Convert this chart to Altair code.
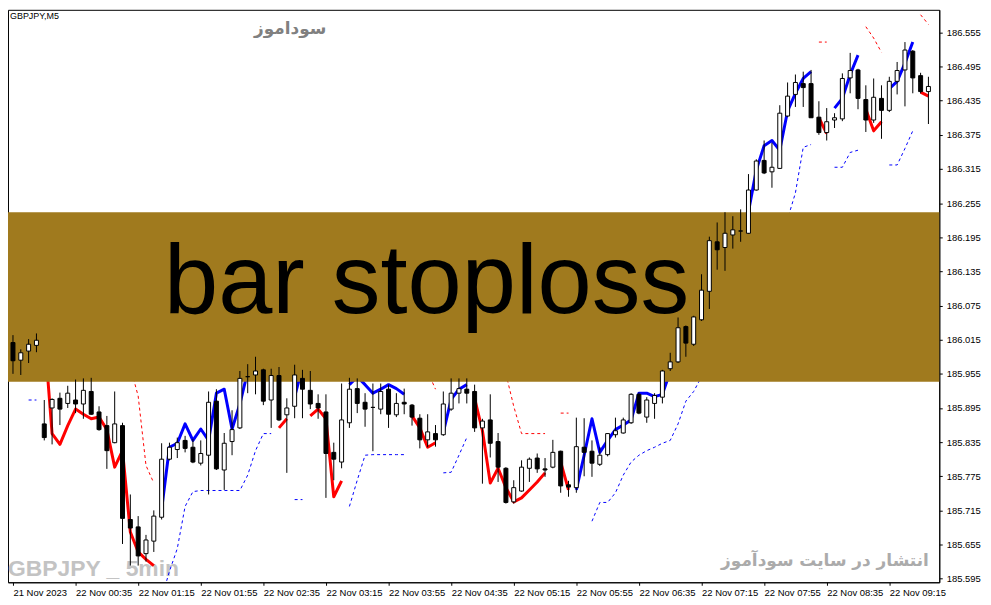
import altair as alt
import pandas as pd

# ---------------- data (GBPJPY, M5) ----------------
opens = [186.010, 185.979, 185.995, 186.005, 185.867, 185.895, 185.912, 185.903, 185.909, 185.902,
         185.924, 185.888, 185.864, 185.834, 185.864, 185.699, 185.686, 185.639, 185.661, 185.703,
         185.805, 185.822, 185.838, 185.826, 185.798, 185.812, 185.907, 185.786, 185.836, 185.860,
         185.950, 185.953, 185.962, 185.909, 185.952, 185.883, 185.898, 185.947, 185.926, 185.903,
         185.888, 185.817, 185.800, 185.869, 185.929, 185.905, 185.896, 185.893, 185.928, 185.883,
         185.905, 185.900, 185.877, 185.839, 185.850, 185.848, 185.893, 185.921, 185.928, 185.924,
         185.860, 185.874, 185.836, 185.789, 185.730, 185.749, 185.789, 185.807, 185.788, 185.791,
         185.819, 185.760, 185.755, 185.826, 185.819, 185.796, 185.813, 185.848, 185.851, 185.869,
         185.919, 185.879, 185.903, 185.914, 185.964, 185.976, 186.038, 186.007, 186.050, 186.100,
         186.187, 186.177, 186.199, 186.206, 186.202, 186.278, 186.330, 186.310, 186.316, 186.408,
         186.446, 186.465, 186.465, 186.406, 186.379, 186.401, 186.403, 186.475, 186.489, 186.437,
         186.401, 186.439, 186.418, 186.469, 186.489, 186.522, 186.479, 186.451]
highs = [186.023, 185.998, 186.016, 186.026, 185.909, 185.912, 185.922, 185.934, 185.945, 185.947,
         185.948, 185.898, 185.881, 185.924, 185.869, 185.743, 185.705, 185.672, 185.715, 185.833,
         185.834, 185.843, 185.846, 185.841, 185.838, 185.924, 185.928, 185.851, 185.891, 185.960,
         185.972, 185.985, 185.964, 185.964, 185.967, 185.912, 185.971, 185.962, 185.960, 185.919,
         185.919, 185.834, 185.938, 185.948, 185.947, 185.921, 185.938, 185.938, 185.936, 185.921,
         185.929, 185.902, 185.884, 185.884, 185.865, 185.924, 185.947, 185.947, 185.947, 185.936,
         185.876, 185.919, 185.851, 185.791, 185.768, 185.803, 185.808, 185.815, 185.807, 185.839,
         185.820, 185.767, 185.878, 185.877, 185.838, 185.826, 185.851, 185.878, 185.878, 185.921,
         185.922, 185.914, 185.921, 185.962, 185.992, 186.054, 186.040, 186.057, 186.130, 186.196,
         186.221, 186.239, 186.232, 186.244, 186.306, 186.332, 186.365, 186.361, 186.427, 186.467,
         186.481, 186.486, 186.489, 186.434, 186.422, 186.413, 186.483, 186.519, 186.491, 186.462,
         186.474, 186.462, 186.477, 186.503, 186.538, 186.524, 186.484, 186.477]
lows = [185.955, 185.953, 185.974, 185.993, 185.838, 185.831, 185.865, 185.895, 185.886, 185.876,
        185.883, 185.855, 185.788, 185.833, 185.656, 185.618, 185.618, 185.625, 185.642, 185.699,
        185.803, 185.807, 185.817, 185.798, 185.794, 185.743, 185.786, 185.751, 185.812, 185.858,
        185.921, 185.919, 185.900, 185.860, 185.872, 185.781, 185.877, 185.877, 185.893, 185.876,
        185.737, 185.768, 185.789, 185.860, 185.886, 185.862, 185.819, 185.884, 185.860, 185.879,
        185.884, 185.864, 185.824, 185.826, 185.827, 185.846, 185.890, 185.903, 185.903, 185.853,
        185.762, 185.808, 185.765, 185.727, 185.727, 185.748, 185.765, 185.781, 185.774, 185.789,
        185.746, 185.739, 185.746, 185.775, 185.774, 185.793, 185.810, 185.843, 185.850, 185.867,
        185.884, 185.869, 185.876, 185.903, 185.960, 185.974, 185.985, 186.004, 186.048, 186.069,
        186.138, 186.136, 186.175, 186.187, 186.201, 186.277, 186.306, 186.282, 186.315, 186.406,
        186.424, 186.424, 186.405, 186.375, 186.365, 186.387, 186.399, 186.448, 186.420, 186.380,
        186.396, 186.368, 186.415, 186.446, 186.425, 186.448, 186.448, 186.394]
closes = [185.978, 185.992, 186.007, 186.014, 185.843, 185.910, 185.893, 185.921, 185.902, 185.926,
          185.884, 185.857, 185.820, 185.867, 185.701, 185.684, 185.635, 185.663, 185.705, 185.805,
          185.826, 185.834, 185.824, 185.800, 185.815, 185.905, 185.788, 185.833, 185.857, 185.947,
          185.950, 185.960, 185.907, 185.952, 185.874, 185.895, 185.953, 185.928, 185.902, 185.895,
          185.815, 185.805, 185.874, 185.928, 185.903, 185.893, 185.896, 185.924, 185.884, 185.903,
          185.902, 185.879, 185.839, 185.853, 185.839, 185.902, 185.921, 185.929, 185.921, 185.860,
          185.872, 185.833, 185.791, 185.729, 185.755, 185.791, 185.805, 185.788, 185.786, 185.817,
          185.758, 185.756, 185.827, 185.817, 185.798, 185.812, 185.850, 185.855, 185.874, 185.919,
          185.886, 185.909, 185.917, 185.960, 185.976, 186.036, 186.009, 186.055, 186.102, 186.189,
          186.173, 186.202, 186.208, 186.206, 186.278, 186.329, 186.308, 186.318, 186.413, 186.443,
          186.467, 186.458, 186.405, 186.379, 186.398, 186.405, 186.474, 186.488, 186.439, 186.401,
          186.441, 186.418, 186.469, 186.488, 186.524, 186.475, 186.451, 186.460]

# colour-changing trend line: value per bar (None = not drawn), direction per bar
trend_value = [None, None, None, None,
               186.028, 185.850, 185.831, 185.864, 185.893, 185.884, 185.876, 185.879, 185.857, 185.791,
               185.820, 185.677, 185.642, 185.629, 185.618,
               185.717, 185.826, 185.833, 185.867, 185.838, 185.858, 185.838, 185.921, 185.928, 185.858,
               185.902, 185.959,
               None, None, None,
               185.860, 185.876,
               185.915, 185.967,
               185.881, 185.893, 185.876, 185.739, 185.767,
               185.936, 185.950, 185.936, 185.921, 185.928, 185.936, 185.929, 185.919,
               185.881, 185.860, 185.826, 185.834,
               185.852, 185.910, 185.928, 185.936,
               185.912, 185.855, 185.763, 185.789, 185.755, 185.730, 185.737, 185.751, 185.765, 185.781,
               None,
               185.800, 185.751,
               185.751, 185.812, 185.876, 185.817, 185.838, 185.857, 185.865, 185.874, 185.921, 185.921,
               185.915, 185.919, 185.959, 186.002, 186.019, 186.045, 186.088, 186.149, 186.175, 186.192,
               186.204, 186.221, 186.240, 186.313, 186.356, 186.365, 186.348, 186.417, 186.448, 186.474,
               186.486,
               186.405, 186.377,
               186.422, 186.439, 186.481, 186.515,
               186.420, 186.382, 186.398,
               186.456, 186.469, 186.501, 186.538,
               186.450, 186.443]
trend_dir = ("----"
             "ddddddddddddddd"
             "uuuuuuuuuuuu"
             "---"
             "dd" "uu" "ddddd" "uuuuuuuu" "dddd" "uuuu"
             "dddddddddd" "-" "dd"
             "uuuuuuuuuuuuuuuuuuuuuuuuuuuuuuu"
             "dd" "uuuu" "ddd" "uuuu" "dd")

# dotted trailing stops: support (blue, below price) and resistance (red, above price)
support_bars = [2, 3,
                19, 20, 21, 22, 23, 24, 25, 26, 27, 28, 29, 30, 31, 32, 33,
                36, 37,
                43, 44, 45, 46, 47, 48, 49, 50,
                55, 56, 57, 58,
                74, 75, 76, 77, 78, 79, 80, 81, 82, 83, 84, 85, 86, 87, 88,
                98, 99, 100, 101, 102,
                105, 106, 107, 108,
                112, 113, 114, 115]
support_vals = [185.909, 185.909,
                185.561, 185.608, 185.648, 185.722, 185.748, 185.750, 185.750, 185.750, 185.750, 185.750,
                185.750, 185.777, 185.820, 185.850, 185.850,
                185.734, 185.734,
                185.722, 185.768, 185.812, 185.813, 185.813, 185.813, 185.813, 185.813,
                185.781, 185.782, 185.812, 185.843,
                185.696, 185.729, 185.729, 185.746, 185.777, 185.800, 185.812, 185.820, 185.826, 185.833,
                185.838, 185.867, 185.907, 185.924, 185.950,
                186.183, 186.227, 186.273, 186.353, 186.358,
                186.318, 186.318, 186.344, 186.348,
                186.322, 186.322, 186.351, 186.382]
resist_bars = [15, 16, 17, 18, 53, 54, 63, 64, 65, 66, 67, 68, 70, 71,
               103, 104, 109, 110, 111, 116, 117]
resist_vals = [185.967, 185.916, 185.794, 185.763, 185.959, 185.928,
               185.955, 185.898, 185.850, 185.850, 185.850, 185.850, 185.886, 185.886,
               186.538, 186.538, 186.565, 186.545, 186.520, 186.586, 186.569]

band_top, band_bottom = 186.239, 185.941

tick_bars = [0, 8, 16, 24, 32, 40, 48, 56, 64, 72, 80, 88, 96, 104, 112]
tick_labels = ["21 Nov 2023", "22 Nov 00:35", "22 Nov 01:15", "22 Nov 01:55", "22 Nov 02:35",
               "22 Nov 03:15", "22 Nov 03:55", "22 Nov 04:35", "22 Nov 05:15", "22 Nov 05:55",
               "22 Nov 06:35", "22 Nov 07:15", "22 Nov 07:55", "22 Nov 08:35", "22 Nov 09:15"]
y_ticks = [185.595, 185.655, 185.715, 185.775, 185.835, 185.895, 185.955, 186.015, 186.075,
           186.135, 186.195, 186.255, 186.315, 186.375, 186.435, 186.495, 186.555]

# ---------------- tables ----------------
RED, BLUE = "#FF0000", "#0000FF"
candles = pd.DataFrame({"i": list(range(len(opens))), "o": opens, "h": highs, "l": lows, "c": closes})
candles["fill"] = ["#FFFFFF" if c > o else "#000000" for o, c in zip(opens, closes)]

trend_rows, run, prev = [], 0, None
for i, (v, d) in enumerate(zip(trend_value, trend_dir)):
    if v is None or d == "-":
        prev = None
        continue
    if d != prev:
        run += 1
    trend_rows.append({"i": i, "v": v, "run": run, "col": RED if d == "d" else BLUE})
    prev = d
trend = pd.DataFrame(trend_rows)


def dotted(bars, vals, colour):
    rows, r, last = [], 0, None
    for b, v in zip(bars, vals):
        if last is None or b != last + 1:
            r += 1
        rows.append({"i": b, "v": v, "run": r, "col": colour})
        last = b
    return pd.DataFrame(rows)


support = dotted(support_bars, support_vals, BLUE)
resist = dotted(resist_bars, resist_vals, RED)

# ---------------- scales / axes ----------------
W, H = 937, 576
FONT = "Liberation Sans"
xs = alt.Scale(domain=[0, 117.75], nice=False, zero=False)
ys = alt.Scale(domain=[185.5887, 186.5947], nice=False, zero=False)
lab_arr = "[" + ",".join("'" + t + "'" for t in tick_labels) + "]"
bar_arr = "[" + ",".join(str(b) for b in tick_bars) + "]"
xaxis = alt.Axis(values=tick_bars, labelExpr=lab_arr + "[indexof(" + bar_arr + ", datum.value)]",
                 orient="bottom", title=None, grid=False, tickSize=3, tickColor="black",
                 domainColor="black", labelAlign="left", labelBaseline="top", labelPadding=2,
                 labelFont=FONT, labelFontSize=9.5, labelColor="black", labelOverlap=False,
                 labelFlush=False, labelBound=False)
yaxis = alt.Axis(values=y_ticks, format=".3f", orient="right", title=None, grid=False,
                 tickSize=3, tickColor="black", domainColor="black", labelPadding=4,
                 labelFont=FONT, labelFontSize=9.5, labelColor="black", labelOverlap=False,
                 labelFlush=False, labelBound=False)
X = alt.X("i:Q", scale=xs, axis=xaxis)


def Y(field):
    return alt.Y(field + ":Q", scale=ys, axis=yaxis)


def label(txt, x, y, size, colour, font=FONT, bold=False, align="left", baseline="alphabetic"):
    return alt.Chart(pd.DataFrame({"t": [txt]})).mark_text(
        font=font, fontSize=size, fontWeight="bold" if bold else "normal", color=colour,
        align=align, baseline=baseline
    ).encode(text="t:N", x=alt.value(x), y=alt.value(y))


wm_left = label("GBPJPY _ 5min", 0, 570, 23, "#C3C3C3", bold=True)
wm_right = label("انتشار در سایت سودآموز", 822, 555, 17, "#ABABAB", font="DejaVu Sans",
                 bold=True, align="center", baseline="middle")
wm_top = label("سوداموز", 284, 19, 17, "#808080", font="DejaVu Sans", bold=True,
               align="center", baseline="middle")
symbol = label("GBPJPY,M5", 2, 9, 9, "black")

trend_layer = alt.Chart(trend).mark_line(strokeWidth=3, clip=True, strokeJoin="round").encode(
    x=X, y=Y("v"), detail="run:N", color=alt.Color("col:N", scale=None))
support_layer = alt.Chart(support).mark_line(strokeWidth=1, strokeDash=[3, 3], clip=True).encode(
    x=X, y=Y("v"), detail="run:N", color=alt.Color("col:N", scale=None))
resist_layer = alt.Chart(resist).mark_line(strokeWidth=1, strokeDash=[3, 3], clip=True).encode(
    x=X, y=Y("v"), detail="run:N", color=alt.Color("col:N", scale=None))

band = alt.Chart(pd.DataFrame({"top": [band_top], "bottom": [band_bottom]})).mark_rect(
    color="#A07A1E").encode(y=alt.Y("top:Q", scale=ys, axis=yaxis), y2="bottom:Q",
                            x=alt.value(0), x2=alt.value(W))
band_text = label("bar stoploss", 157, 305, 98, "black")

wicks = alt.Chart(candles).mark_rule(color="black", strokeWidth=1).encode(
    x=X, y=Y("l"), y2="h:Q")
bodies = alt.Chart(candles).mark_bar(size=4, stroke="black", strokeWidth=1).encode(
    x=X, y=Y("o"), y2="c:Q", fill=alt.Color("fill:N", scale=None))

chart = alt.layer(
    wm_left, wm_right, wm_top, trend_layer, support_layer, resist_layer,
    band, band_text, wicks, bodies, symbol
).properties(
    width=W, height=H,
    padding={"left": 0, "top": 0, "right": 44, "bottom": 13},
    autosize=alt.AutoSizeParams(type="none"),
    background="white",
).configure_view(stroke="black", strokeWidth=1)

chart.save("out.html", embed_options={"renderer": "svg", "actions": False})
